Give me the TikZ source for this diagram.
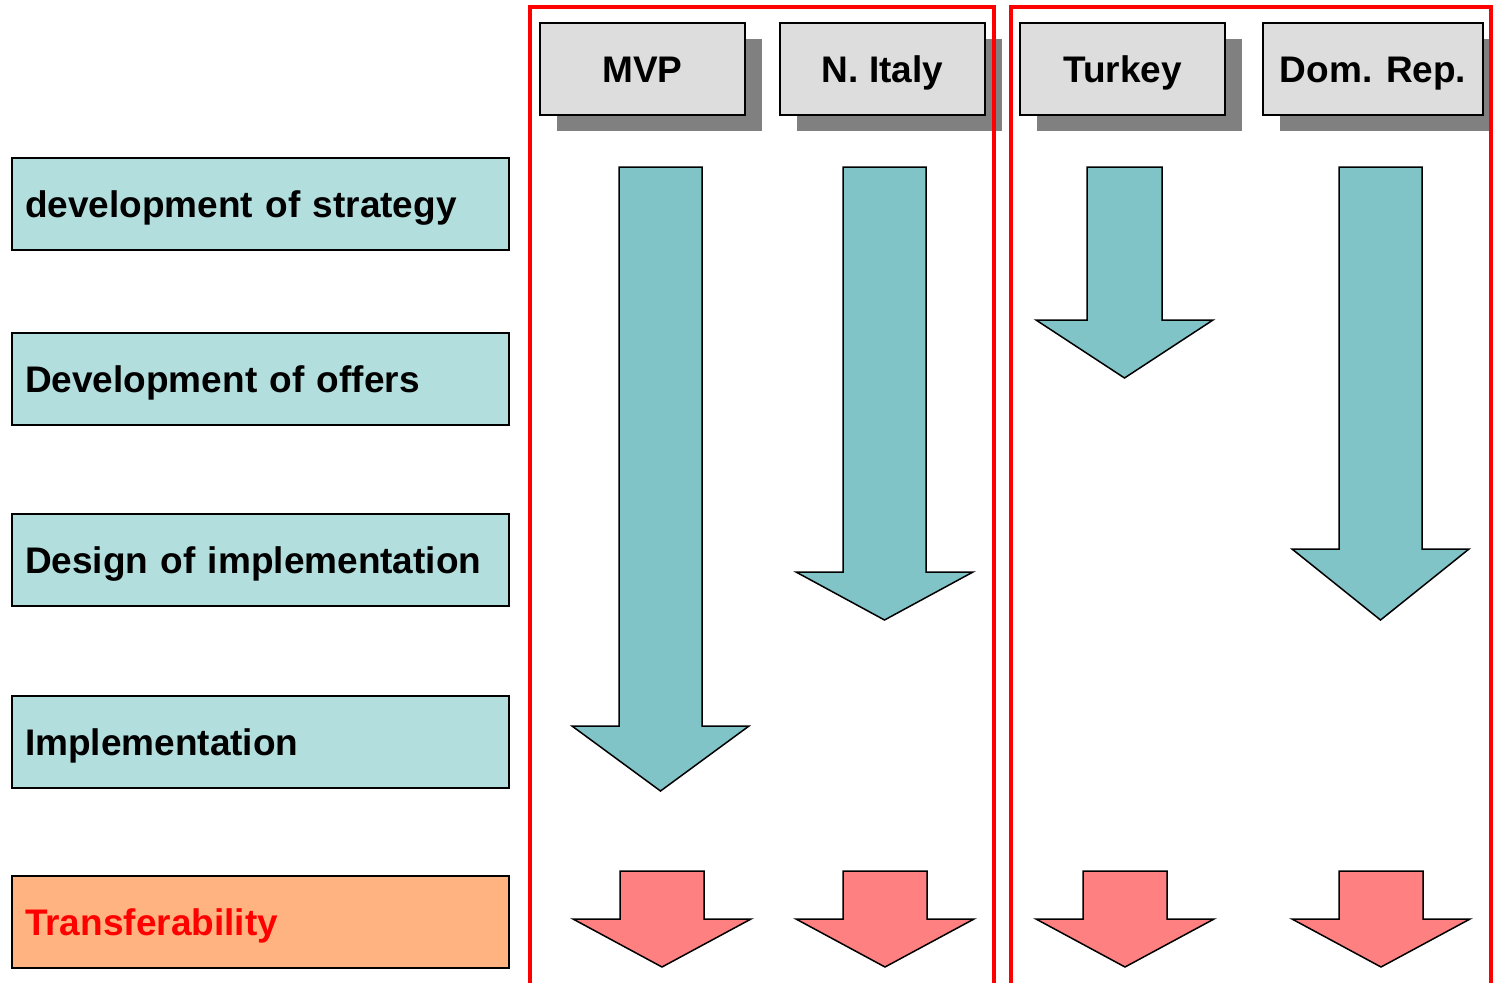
\documentclass[tikz,border=0pt]{standalone}
\usepackage{fontspec}
\setmainfont{Liberation Sans}
\usetikzlibrary{shadows}
\definecolor{rowfill}{RGB}{179,222,222}
\definecolor{transfill}{RGB}{255,179,128}
\definecolor{headfill}{RGB}{221,221,221}
\definecolor{shadowgray}{RGB}{128,128,128}
\definecolor{tealarrow}{RGB}{128,196,200}
\definecolor{redarrow}{RGB}{255,128,128}
% block arrow: shaft left/right, top, head left/right, head base, tip
\newcommand{\blockarrow}[8]{%
  \draw[#1] (#2,#4) -- (#3,#4) -- (#3,#7) -- (#6,#7) -- ({(#2+#3)/2},#8)
    -- (#5,#7) -- (#2,#7) -- cycle;}
\begin{document}
\begin{tikzpicture}[x=1pt,y=-1pt,
    every node/.style={font=\fontsize{37}{44}\selectfont\bfseries,
      text height=27pt,text depth=0pt},
    rowbox/.style={draw,line width=1.5pt,fill=rowfill,minimum height=92pt,
      text width=471pt,inner xsep=13pt,align=left},
    headbox/.style={draw,line width=1.5pt,fill=headfill,minimum height=92pt,
      minimum width=205pt,
      drop shadow={shadow xshift=17pt,shadow yshift=-16pt,fill=shadowgray,opacity=1}},
    frame/.style={draw=red,line width=3.5pt},
    tealarr/.style={draw,line width=1.5pt,fill=tealarrow,line join=miter},
    redarr/.style={draw,line width=1.5pt,fill=redarrow,line join=miter}]
    \useasboundingbox (0,0) rectangle (1493,982);
    % row labels
    \node[rowbox] (strategy) at (260.5,204) {development of strategy};
    \node[rowbox] (offers) at (260.5,379) {Development of offers};
    \node[rowbox] (design) at (260.5,560) {Design of implementation};
    \node[rowbox] (impl) at (260.5,742) {Implementation};
    \node[rowbox,fill=transfill,text=red] (transfer) at (260.5,922) {Transferability};
    % column headers
    \node[headbox] (mvp) at (642.5,69) {MVP};
    \node[headbox] (italy) at (882.5,69) {N. Italy};
    \node[headbox] (turkey) at (1122.5,69) {Turkey};
    \node[headbox,minimum width=220pt] (domrep) at (1373,69) {Dom. Rep.};
    % groups
    \draw[frame] (530,990) -- (530,7) -- (994,7) -- (994,990);
    \draw[frame] (1011,990) -- (1011,7) -- (1491,7) -- (1491,990);
    % progress arrows
    \blockarrow{tealarr}{619}{702}{167}{572}{749}{726}{791}
    \blockarrow{tealarr}{843}{926}{167}{796}{973}{572}{620}
    \blockarrow{tealarr}{1087}{1162}{167}{1036}{1213}{320}{378}
    \blockarrow{tealarr}{1339}{1422}{167}{1292}{1469}{549}{620}
    % transferability arrows
    \blockarrow{redarr}{620}{704}{871}{573}{751}{919}{967}
    \blockarrow{redarr}{843}{927}{871}{796}{974}{919}{967}
    \blockarrow{redarr}{1083}{1167}{871}{1036}{1214}{919}{967}
    \blockarrow{redarr}{1339}{1423}{871}{1292}{1470}{919}{967}
\end{tikzpicture}
\end{document}
